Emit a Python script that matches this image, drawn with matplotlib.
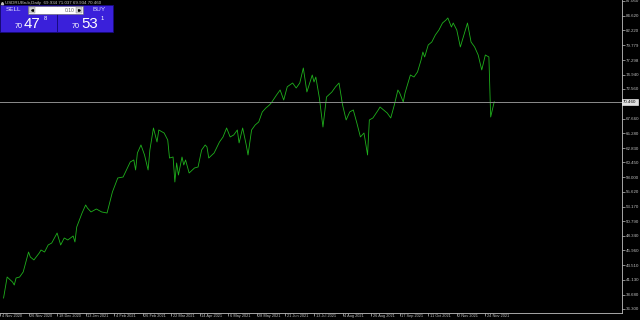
import matplotlib.pyplot as plt
from matplotlib.patches import Rectangle
from matplotlib.transforms import ScaledTranslation, blended_transform_factory

# daily closes, bar index counted from 4 Nov 2020
bars = [2, 4, 7, 8, 9, 11, 13, 16, 17, 19, 22, 23, 25, 27, 29, 32, 34, 36, 38, 41,
        42, 43, 46, 48, 49, 51, 54, 57, 60, 63, 66, 69, 73, 75, 76, 77, 79, 81, 83, 84,
        86, 88, 89, 92, 94, 95, 97, 98, 99, 100, 102, 103, 104, 106, 109, 111, 113, 115, 116, 117,
        120, 123, 125, 127, 129, 131, 133, 134, 136, 138, 139, 141, 143, 145, 147, 149, 151, 152, 155, 157,
        159, 161, 164, 166, 168, 170, 172, 175, 176, 177, 179, 181, 183, 186, 188, 190, 192, 194, 196, 198,
        200, 202, 204, 206, 207, 209, 212, 213, 215, 217, 219, 221, 223, 224, 226, 227, 230, 232, 234, 236,
        237, 238, 240, 242, 244, 246, 248, 250, 251, 253, 254, 256, 258, 260, 262, 264, 266, 268, 270, 272,
        274, 275, 277]
closes = [38.11, 41.57, 40.75, 40.25, 41.41, 41.57, 42.40, 45.69, 44.87, 44.38, 45.53, 46.02, 45.69, 46.85, 47.18, 48.82, 46.85, 48.00, 47.67, 48.33,
          47.34, 49.81, 52.12, 53.44, 52.94, 52.29, 52.78, 52.29, 52.12, 55.58, 57.89, 58.05, 60.53, 60.86, 59.21, 62.01, 63.33, 61.68, 59.21, 62.50,
          66.13, 63.82, 65.80, 65.30, 64.15, 61.18, 61.35, 57.23, 60.36, 58.38, 61.35, 60.03, 60.86, 58.71, 59.54, 59.70, 62.50, 63.33, 63.00, 61.18,
          62.01, 63.82, 64.65, 66.13, 64.65, 64.98, 65.80, 63.66, 66.13, 63.33, 61.68, 65.80, 66.62, 67.12, 68.77, 69.42, 69.92, 70.25, 71.57, 72.39,
          70.74, 72.93, 73.54, 72.72, 73.54, 76.02, 72.06, 74.86, 73.71, 74.53, 71.07, 66.29, 71.24, 72.06, 72.89, 73.54, 69.92, 67.45, 68.77, 69.10,
          66.95, 64.65, 65.30, 61.68, 67.45, 67.78, 69.10, 69.59, 69.10, 68.60, 67.78, 69.92, 72.39, 71.90, 70.41, 71.90, 74.86, 74.53, 75.36, 77.34,
          78.65, 77.83, 79.81, 80.30, 81.46, 82.28, 83.43, 83.93, 84.26, 82.77, 83.43, 82.28, 79.48, 81.46, 83.43, 80.30, 79.48, 78.16, 75.69, 78.16,
          77.83, 67.94, 70.46]

date_labels = ["4 Nov 2020", "26 Nov 2020", "18 Dec 2020", "13 Jan 2021", "4 Feb 2021",
               "26 Feb 2021", "22 Mar 2021", "14 Apr 2021", "6 May 2021", "28 May 2021",
               "21 Jun 2021", "13 Jul 2021", "4 Aug 2021", "26 Aug 2021", "17 Sep 2021",
               "11 Oct 2021", "2 Nov 2021", "24 Nov 2021"]
bars_per_label = 16

price_ticks = [87.060, 84.620, 82.220, 79.779, 77.298, 74.940, 72.560, 67.660, 65.280,
               62.830, 60.450, 58.000, 55.620, 53.170, 50.790, 48.340, 45.960, 43.510,
               41.130, 38.680, 36.300]
last_price = 70.460
bid, ask = 70.478, 70.531
lot = "0.10"
title = "USDRUBrub,Daily  69.934 71.037 69.934 70.460"

fg = "#c0c0c0"
font = "Liberation Sans"

fig = plt.figure(figsize=(6.4, 3.2), dpi=100, facecolor="black")
ax = fig.add_axes([0, 7 / 320, 622 / 640, 313 / 320], facecolor="black")

ax.plot(bars, closes, color="#1fb01c", lw=0.6)
ax.axhline(last_price, color="#8c8c8c", lw=0.7)

ax.set_xlim(2 / 1.79, 624 / 1.79)
ax.set_ylim(35.64, 87.22)

for s in ["top", "left"]:
    ax.spines[s].set_visible(False)
for s in ["right", "bottom"]:
    ax.spines[s].set_color(fg)
    ax.spines[s].set_linewidth(0.6)

ax.yaxis.tick_right()
ax.set_yticks(price_ticks)
ax.set_yticklabels([f"{v:.3f}" for v in price_ticks])
ax.tick_params(axis="y", colors=fg, labelsize=3.2, length=2, width=0.5, pad=1)
for lab in ax.get_yticklabels():
    lab.set_family(font)

ticks = [i * bars_per_label for i in range(len(date_labels))]
ax.set_xticks(ticks)
ax.set_xticklabels([])
ax.tick_params(axis="x", colors=fg, length=2, width=0.5)
off = blended_transform_factory(ax.transData, ax.transAxes) + ScaledTranslation(1.5 / 100, -1.0 / 100, fig.dpi_scale_trans)
for t, lab in zip(ticks, date_labels):
    ax.text(t, 0, lab, transform=off, ha="left", va="top", color=fg,
            fontsize=2.8, family=font, clip_on=False)

ax.text(1.002, last_price, f"{last_price:.3f}", transform=ax.get_yaxis_transform(),
        ha="left", va="center", fontsize=3.2, family=font, color="black",
        bbox=dict(boxstyle="square,pad=0.25", fc="#e0e0e0", ec="white", lw=0.4))

# overlay in pixel coordinates for the header and the trading panel
ov = fig.add_axes([0, 0, 1, 1])
ov.set_xlim(0, 640)
ov.set_ylim(320, 0)
ov.axis("off")

ov.plot(2.2, 2.6, marker="^", ms=1.6, color=fg)
ov.text(5, 2.6, title, ha="left", va="center", fontsize=3.2, family=font, color=fg)

blue = "#3a20da"
edge = "#160a7a"
ov.add_patch(Rectangle((0, 5), 56.5, 27, fc=blue, ec=edge, lw=0.6))
ov.add_patch(Rectangle((56.5, 5), 56, 27, fc=blue, ec=edge, lw=0.6))
ov.add_patch(Rectangle((28, 6), 55, 8, fc="white", ec="#606060", lw=0.4))
ov.add_patch(Rectangle((28.6, 6.6), 6, 6.8, fc="#d4d4d4", ec="#808080", lw=0.3))
ov.add_patch(Rectangle((76.4, 6.6), 6, 6.8, fc="#d4d4d4", ec="#808080", lw=0.3))
ov.plot(31.6, 10, marker="<", ms=1.3, color="black")
ov.plot(79.4, 10, marker=">", ms=1.3, color="black")
ov.text(74.5, 10, lot, ha="right", va="center", fontsize=3.6, family=font, color="#606060")

ov.text(13, 9.8, "SELL", ha="center", va="center", fontsize=4.6, family=font, color="#d8d8ff")
ov.text(99, 9.8, "BUY", ha="center", va="center", fontsize=4.6, family=font, color="#d8d8ff")

for x0, price in [(0, bid), (57, ask)]:
    s = f"{price:.3f}"
    big, pip = s[:2], s[3:5]
    last = s[5]
    ov.text(x0 + 19, 27.5, big, ha="center", va="baseline", fontsize=5.2, family=font, color="white")
    ov.text(x0 + 24, 28.5, pip, ha="left", va="baseline", fontsize=10.8, family=font, color="white")
    ov.text(x0 + 44, 19.5, last, ha="left", va="baseline", fontsize=4.2, family=font, color="white")

fig.savefig("out.png", dpi=100, facecolor="black")
